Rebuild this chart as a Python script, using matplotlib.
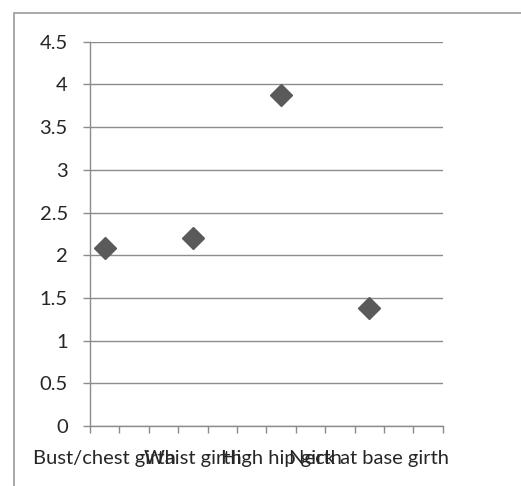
import matplotlib
matplotlib.use("Agg")
import matplotlib.pyplot as plt
from matplotlib.patches import Rectangle

# --- Data ---
categories = ["Bust/chest girth", "Waist girth", "High hip girth", "Neck at base girth"]
values = [2.08, 2.2, 3.88, 1.38]
# each measurement sits in the middle of its own 3-slot block on the x axis
x_positions = [0.5, 3.5, 6.5, 9.5]
y_ticks = [0, 0.5, 1, 1.5, 2, 2.5, 3, 3.5, 4, 4.5]
y_tick_labels = ["0", "0.5", "1", "1.5", "2", "2.5", "3", "3.5", "4", "4.5"]

# --- Style ---
FONT = "Lato"
TEXT_COLOR = "#262626"
GRID_COLOR = "#8c8c8c"
MARKER_COLOR = "#5a5a5a"

plt.rcParams["font.family"] = FONT

fig = plt.figure(figsize=(5.21, 4.86), dpi=100)
ax = fig.add_axes([0.1727, 0.1230, 0.677, 0.7914])

# chart area frame
fig.patches.append(Rectangle((14 / 521, -0.05), 1.2, 1 - 13 / 486 + 0.05,
                             transform=fig.transFigure, fill=False,
                             edgecolor="#9a9a9a", linewidth=1.2))

ax.plot(x_positions, values, linestyle="none", marker="D",
        markersize=11, color=MARKER_COLOR, zorder=3)

ax.set_xlim(0, 12)
ax.set_ylim(0, 4.5)

ax.set_yticks(y_ticks)
ax.set_yticklabels(y_tick_labels)
ax.yaxis.grid(True, color=GRID_COLOR, linewidth=1.0)
ax.set_axisbelow(True)

# tick marks at every slot boundary, labels centred on the points
ax.set_xticks(range(0, 13))
ax.set_xticklabels([])
ax.set_xticks(x_positions, minor=True)
ax.set_xticklabels(categories, minor=True)
ax.tick_params(axis="x", which="minor", length=0, pad=17)
ax.tick_params(axis="x", which="major", length=5, width=1, color=GRID_COLOR)
ax.tick_params(axis="y", length=5, width=1, color=GRID_COLOR, pad=11)
ax.tick_params(which="both", labelsize=14.5, labelcolor=TEXT_COLOR)

for side in ["top", "right"]:
    ax.spines[side].set_visible(False)
for side in ["left", "bottom"]:
    ax.spines[side].set_color(GRID_COLOR)
    ax.spines[side].set_linewidth(1.0)

fig.savefig("out.png", dpi=100)
